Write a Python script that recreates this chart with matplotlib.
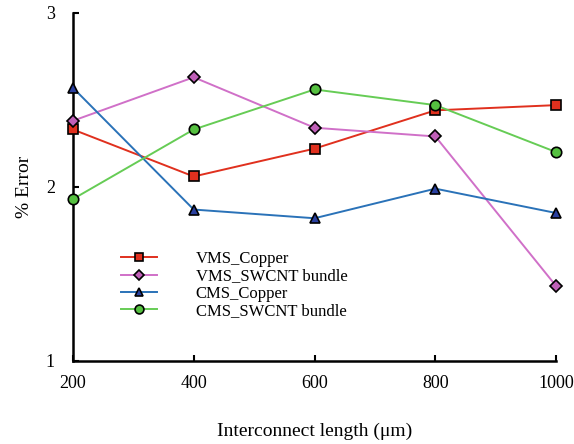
import matplotlib
matplotlib.use("Agg")
import matplotlib.pyplot as plt

plt.rcParams['font.family'] = ['Liberation Serif', 'DejaVu Serif']

lengths = [200, 400, 600, 800, 1000]
vms_copper = [2.33, 2.06, 2.22, 2.44, 2.47]
vms_swcnt = [2.38, 2.63, 2.34, 2.29, 1.43]
cms_copper = [2.57, 1.87, 1.82, 1.99, 1.85]
cms_swcnt = [1.93, 2.33, 2.56, 2.47, 2.20]

labels = ["VMS_Copper", "VMS_SWCNT bundle", "CMS_Copper", "CMS_SWCNT bundle"]
xticks = [200, 400, 600, 800, 1000]
yticks = [1, 2, 3]

fig = plt.figure(figsize=(5.74, 4.44), dpi=100)
ax = fig.add_axes([0.127, 0.187, 0.842, 0.784])

series = [
    (vms_copper, '#e0301e', 's', '#e0301e', 7),
    (vms_swcnt, '#d070c8', 'D', '#c060b8', 6.5),
    (cms_copper, '#2a72b8', '^', '#2a40a0', 7.5),
    (cms_swcnt, '#66cc55', 'o', '#55c040', 7.5),
]
for (vals, c, m, fc, ms), lab in zip(series, labels):
    ax.plot(lengths, vals, color=c, lw=1.4, marker=m, markerfacecolor=fc,
            markeredgecolor='black', markeredgewidth=1.2, markersize=ms,
            label=lab, clip_on=False, zorder=3)

ax.set_xlim(200, 1000)
ax.set_ylim(1, 3)
ax.set_xticks(xticks)
ax.set_yticks(yticks)
ax.spines['top'].set_visible(False)
ax.spines['right'].set_visible(False)
ax.spines['left'].set_linewidth(1.8)
ax.spines['bottom'].set_linewidth(1.8)
ax.tick_params(direction='in', length=4, width=1.5, labelsize=13)
ax.tick_params(axis='x', pad=10)
ax.tick_params(axis='y', pad=13)
ax.set_xlabel('Interconnect length (μm)', fontsize=14, labelpad=22)
ax.set_ylabel('% Error', fontsize=14, labelpad=9)

leg = ax.legend(loc='upper left', bbox_to_anchor=(0.085, 0.335), frameon=False,
                fontsize=12, handlelength=2.2, handletextpad=2.3,
                labelspacing=0.08, borderaxespad=0, markerscale=0.85)

fig.savefig('out.png', dpi=100)
